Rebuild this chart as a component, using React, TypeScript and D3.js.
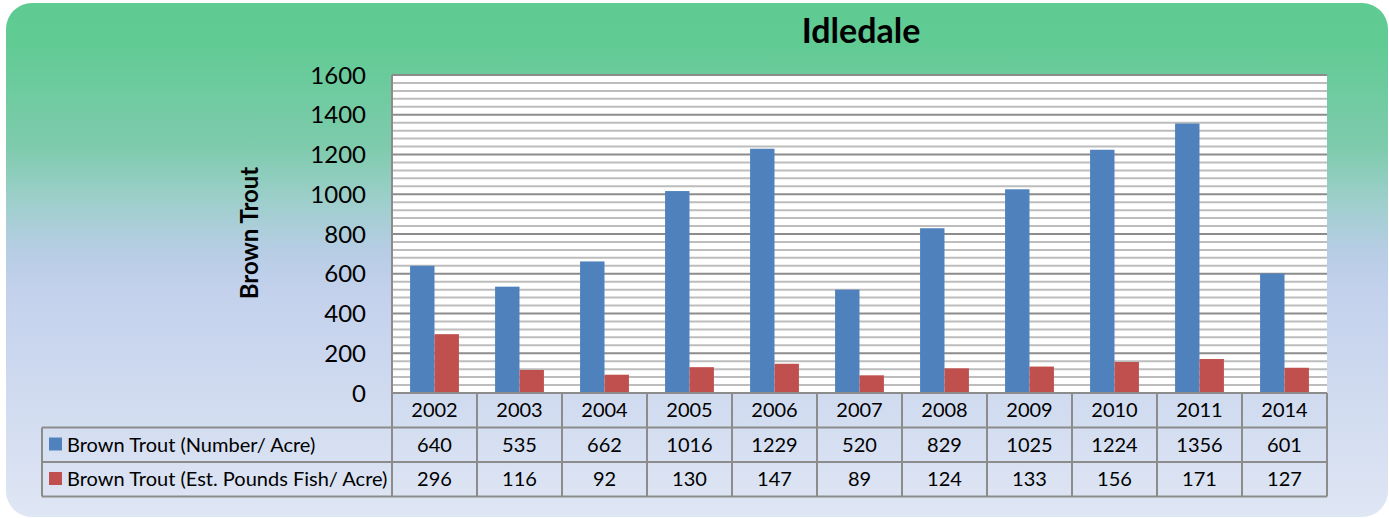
import React from 'react';
import * as d3 from 'd3';

const WIDTH = 1389;
const HEIGHT = 518;

const years = ['2002', '2003', '2004', '2005', '2006', '2007', '2008', '2009', '2010', '2011', '2014'];
const numberPerAcre = [640, 535, 662, 1016, 1229, 520, 829, 1025, 1224, 1356, 601];
const poundsPerAcre = [296, 116, 92, 130, 147, 89, 124, 133, 156, 171, 127];
const seriesNames = ['Brown Trout (Number/ Acre)', 'Brown Trout (Est. Pounds Fish/ Acre)'];
const seriesColors = ['#4f81bd', '#c0504d'];
const yTicks = [0, 200, 400, 600, 800, 1000, 1200, 1400, 1600];

const FONT = 'Lato, "Noto Sans", sans-serif';
const GRID = '#8c8c8c';

const M = { left: 392, right: 1327, top: 75, bottom: 393 };
const ROW_H = 34.5;
const TABLE_LEFT = 42;

export default function App() {
  const series = [numberPerAcre, poundsPerAcre];

  const x0 = d3.scaleBand().domain(years).range([M.left, M.right]).padding(0);
  const x1 = d3.scaleBand()
    .domain(['0', '1'])
    .range([0, x0.bandwidth()])
    .paddingInner(0)
    .paddingOuter(0.74);
  const y = d3.scaleLinear().domain([0, 1600]).range([M.bottom, M.top]);

  const minor = d3.range(0, 1601, 40).filter(v => v % 200 !== 0);

  const rowTops = [M.bottom, M.bottom + ROW_H, M.bottom + 2 * ROW_H];
  const tableBottom = M.bottom + 3 * ROW_H;

  return (
    <svg
      xmlns="http://www.w3.org/2000/svg"
      width={WIDTH}
      height={HEIGHT}
      style={{ position: 'absolute', left: 0, top: 0, background: '#fff' }}
    >
      <defs>
        <linearGradient id="bg" x1="0" y1="0" x2="0" y2="1">
          <stop offset="0" stopColor="#5ecb91" />
          <stop offset="0.08" stopColor="#61cb94" />
          <stop offset="0.28" stopColor="#7ecbad" />
          <stop offset="0.38" stopColor="#9ccfca" />
          <stop offset="0.48" stopColor="#b6cde4" />
          <stop offset="0.56" stopColor="#c3d1ec" />
          <stop offset="1" stopColor="#dfe6f4" />
        </linearGradient>
      </defs>
      <rect x={6} y={3} width={1382} height={514} rx={26} ry={26} fill="url(#bg)" />

      <text x={861} y={43} textAnchor="middle" fontFamily={FONT} fontWeight="bold" fontSize={34} fill="#000">
        Idledale
      </text>
      <text
        transform={`translate(258,233) rotate(-90)`}
        textAnchor="middle"
        fontFamily={FONT}
        fontWeight="bold"
        fontSize={24}
        fill="#000"
      >
        Brown Trout
      </text>

      {/* plot area */}
      <rect x={M.left} y={M.top} width={M.right - M.left} height={M.bottom - M.top} fill="#fff" />
      {minor.map(v => (
        <line key={'m' + v} x1={M.left} x2={M.right} y1={y(v)} y2={y(v)} stroke="#bdbdbd" strokeWidth={2} />
      ))}
      {yTicks.map(v => (
        <line key={'g' + v} x1={M.left} x2={M.right} y1={y(v)} y2={y(v)} stroke={GRID} strokeWidth={2} />
      ))}
      <line x1={M.left} x2={M.left} y1={M.top} y2={M.bottom} stroke={GRID} strokeWidth={2} />

      {yTicks.map(v => (
        <text key={'t' + v} x={366} y={y(v) + 8.5} textAnchor="end" fontFamily={FONT} fontSize={24} fill="#000">
          {v}
        </text>
      ))}

      {years.map((yr, i) => (
        <g key={yr}>
          {series.map((s, k) => (
            <rect
              key={k}
              x={(x0(yr) as number) + (x1(String(k)) as number)}
              y={y(s[i])}
              width={x1.bandwidth()}
              height={y(0) - y(s[i])}
              fill={seriesColors[k]}
            />
          ))}
        </g>
      ))}

      {/* data table */}
      <g fill="none" stroke={GRID} strokeWidth={2}>
        <line x1={M.left} x2={M.right} y1={M.bottom} y2={M.bottom} />
        <line x1={TABLE_LEFT} x2={M.right} y1={rowTops[1]} y2={rowTops[1]} />
        <line x1={TABLE_LEFT} x2={M.right} y1={rowTops[2]} y2={rowTops[2]} />
        <line x1={TABLE_LEFT} x2={M.right} y1={tableBottom} y2={tableBottom} />
        <line x1={TABLE_LEFT} x2={TABLE_LEFT} y1={rowTops[1]} y2={tableBottom} />
        {d3.range(years.length + 1).map(j => {
          const xx = j < years.length ? (x0(years[j]) as number) : M.right;
          return <line key={j} x1={xx} x2={xx} y1={M.bottom} y2={tableBottom} />;
        })}
      </g>

      {years.map(yr => (
        <text
          key={'y' + yr}
          x={(x0(yr) as number) + x0.bandwidth() / 2}
          y={rowTops[0] + ROW_H / 2 + 7}
          textAnchor="middle"
          fontFamily={FONT}
          fontSize={20}
          fill="#000"
        >
          {yr}
        </text>
      ))}
      {series.map((s, k) => (
        <g key={'r' + k}>
          <rect x={49} y={rowTops[k + 1] + 10} width={13} height={13} fill={seriesColors[k]} />
          <text x={67} y={rowTops[k + 1] + ROW_H / 2 + 7} fontFamily={FONT} fontSize={20} fill="#000">
            {seriesNames[k]}
          </text>
          {years.map((yr, i) => (
            <text
              key={yr}
              x={(x0(yr) as number) + x0.bandwidth() / 2}
              y={rowTops[k + 1] + ROW_H / 2 + 7}
              textAnchor="middle"
              fontFamily={FONT}
              fontSize={20}
              fill="#000"
            >
              {s[i]}
            </text>
          ))}
        </g>
      ))}
    </svg>
  );
}
